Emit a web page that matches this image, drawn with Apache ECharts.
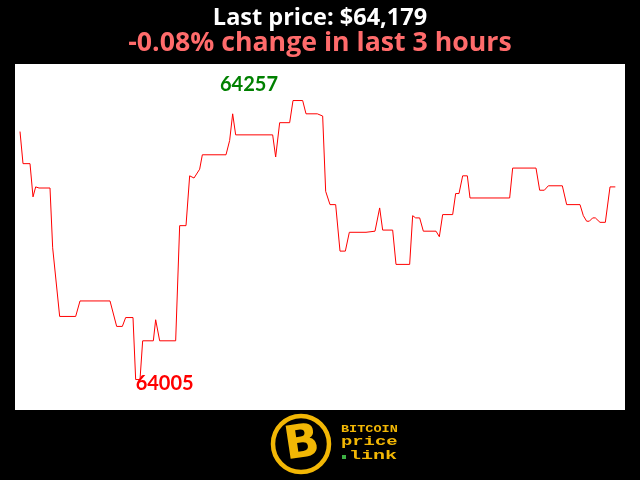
<!DOCTYPE html>
<html>
<head>
<meta charset="utf-8">
<script src="https://cdn.jsdelivr.net/npm/echarts@6/dist/echarts.min.js"></script>
<style>html,body{margin:0;padding:0;background:#000;}#c{width:640px;height:480px;}</style>
</head>
<body>
<div id="c"></div>
<script>
// minutes into the 3-hour window
var times = [1.5,2.4,4.5,5.4,6.2,7.2,10.5,11.3,13.4,18.2,19.5,28.5,30.5,32.2,33.2,35.4,36.2,37.5,38.3,41.5,
  42.2,43.4,48.2,49.4,51.3,52.4,53.7,55.4,56.2,63.3,64.4,65.3,66.2,77.3,78.2,79.4,82.4,83.4,86.3,87.3,
  90.7,92.3,93.2,94.5,96.2,97.5,99.1,100.3,105.3,108,109.4,110.3,113.3,114.3,118.4,119.3,120.2,121.4,122.5,126.3,
  127.3,128.3,131.3,132.2,133.2,134.3,135.7,136.5,148.4,149.3,156.3,157.4,158.8,160,164.2,165.5,169.5,170.5,171.5,172.3,
  173.3,174.1,175.5,177.1,178.5,180.1];
// BTC price (USD)
var prices = [64229,64200,64200,64170,64179,64178,64178,64124,64062,64062,64076,64076,64053,64053,64061,64061,64005,64005,64040,64040,
  64059,64040,64040,64144,64144,64189,64187,64195,64208,64208,64221,64245,64226,64226,64206,64237,64237,64257,64257,64245,
  64245,64243,64175,64163,64163,64121,64121,64138,64138,64139,64160,64140,64140,64109,64109,64153,64151,64151,64139,64139,
  64134,64154,64154,64173,64173,64189,64189,64169,64169,64196,64196,64176,64176,64180,64180,64163,64163,64153,64148,64148,
  64151,64151,64147,64147,64179,64179];
var titleLines = ['Last price: $64,179', '-0.08% change in last 3 hours'];
var logoWords = ['BITCOIN', 'price', 'link'];

var chart = echarts.init(document.getElementById('c'));
var data = times.map(function (t, i) { return [t, prices[i]]; });
var gold = '#f2b705';
chart.setOption({
  animation: false,
  backgroundColor: '#000',
  title: [
    { text: titleLines[0], left: 'center', top: 1, textStyle: { color: '#fff', fontFamily: 'Open Sans', fontWeight: 'bold', fontSize: 23.5 } },
    { text: titleLines[1], left: 'center', top: 25, textStyle: { color: '#ff6b6b', fontFamily: 'Open Sans', fontWeight: 'bold', fontSize: 26.7 } }
  ],
  grid: { left: 15, right: 15, top: 64, bottom: 70, show: true, backgroundColor: '#fff', borderWidth: 0 },
  xAxis: { type: 'value', min: 0, max: 183, show: false },
  yAxis: { type: 'value', min: 63977.5, max: 64290, show: false },
  series: [{
    type: 'line',
    data: data,
    symbol: 'none',
    lineStyle: { color: '#ff0000', width: 1 },
    markPoint: {
      symbol: 'circle', symbolSize: 0,
      label: { show: true, fontFamily: 'Lato', fontWeight: 'bold', fontSize: 20 },
      data: [
        { type: 'max', label: { formatter: '{c}', color: '#008000', offset: [-44, -16] } },
        { type: 'min', label: { formatter: '{c}', color: '#ff0000', offset: [29, 4] } }
      ]
    }
  }],
  graphic: [
    { type: 'circle', shape: { cx: 301, cy: 444, r: 28 }, style: { fill: '#000', stroke: gold, lineWidth: 4.5 } },
    { type: 'text', x: 302, y: 445, rotation: 0.15, z: 10,
      style: { text: 'B', fill: gold, font: 'bold 46px "DejaVu Sans"', align: 'center', verticalAlign: 'middle' } },
    { type: 'text', x: 341, y: 429, scaleX: 1.23, style: { text: logoWords[0], fill: gold, font: 'bold 11px "Liberation Mono"', verticalAlign: 'middle' } },
    { type: 'text', x: 341, y: 442, scaleX: 1.57, style: { text: logoWords[1], fill: gold, font: 'bold 12px "Liberation Mono"', verticalAlign: 'middle' } },
    { type: 'rect', shape: { x: 342, y: 455, width: 4, height: 4 }, style: { fill: '#3cb043' } },
    { type: 'text', x: 349, y: 456, scaleX: 1.67, style: { text: logoWords[2], fill: gold, font: 'bold 12px "Liberation Mono"', verticalAlign: 'middle' } }
  ]
});
</script>
</body>
</html>
